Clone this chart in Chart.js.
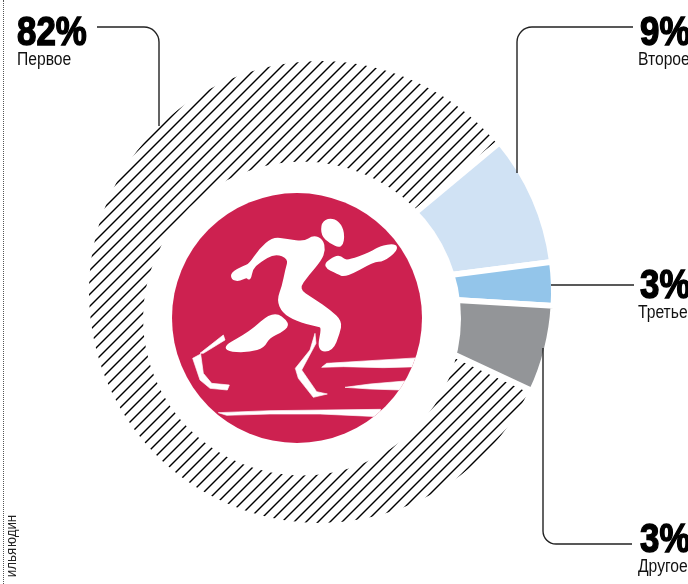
<!DOCTYPE html>
<html lang="ru">
<head>
<meta charset="utf-8">
<title>Диаграмма</title>
<script src="https://cdn.jsdelivr.net/npm/chart.js@4"></script>
<style>
  html, body { margin: 0; padding: 0; background: #fff; overflow: hidden; }
  #box { position: relative; width: 688px; height: 584px; overflow: hidden; }
  #grafico { position: absolute; left: 0; top: 0; }
  .pct, .nom, #credito { position: absolute; color: #000; white-space: nowrap; font-family: "Liberation Sans", sans-serif; transform-origin: 0 0; }
  .pct { font-weight: 700; font-size: 41px; line-height: 41px; -webkit-text-stroke: 1.5px #000; transform: scaleX(.85); }
  .nom { font-size: 18px; line-height: 20px; color: #111; transform: scaleX(.87); }
  #credito { left: 11px; top: 546px; font-size: 14px; line-height: 14px; color: #222; word-spacing: -3px; transform-origin: 50% 50%; transform: translate(-50%, -50%) rotate(-90deg) scaleX(.95); }
  #punteado { position: absolute; left: 3px; top: 0; height: 584px; border-left: 1.5px dotted #555; }
</style>
</head>
<body>
<div id="box">
  <canvas id="grafico" width="688" height="584"></canvas>
  <div id="punteado"></div>
  <div id="credito">илья юдин</div>
</div>
<script>
// Datos. La porción gris está dibujada mayor que su rótulo (3%): ocupa ~6% del anillo.
const categorias = ['Первое', 'Второе', 'Третье', 'Другое'];
const valores = [82, 9, 3, 6];
const rotulos = ['82%', '9%', '3%', '3%'];
const colores = ['#000000', '#d0e2f4', '#93c5ea', '#939598'];

// Posición de los rótulos, en el mismo orden que categorias
const rotulosX = [17, 640, 640, 640];
const rotulosY = [11, 11, 264, 518];

function rayado() {
  const t = document.createElement('canvas');
  t.width = 12; t.height = 12;
  const c = t.getContext('2d');
  c.strokeStyle = '#000';
  c.lineWidth = 1.4;
  [[-12, 12, 12, -12], [0, 12, 12, 0], [0, 24, 24, 0]].forEach(([a, b, d, e]) => {
    c.beginPath(); c.moveTo(a, b); c.lineTo(d, e); c.stroke();
  });
  return c.createPattern(t, 'repeat');
}

// Contorno suavizado por puntos medios; el trazo blanco recupera lo que se come la curva
function formaSuave(ctx, puntos) {
  const medio = (a, b) => [(a[0] + b[0]) / 2, (a[1] + b[1]) / 2];
  const ini = medio(puntos[puntos.length - 1], puntos[0]);
  ctx.beginPath();
  ctx.moveTo(ini[0], ini[1]);
  puntos.forEach((p, i) => {
    const m = medio(p, puntos[(i + 1) % puntos.length]);
    ctx.quadraticCurveTo(p[0], p[1], m[0], m[1]);
  });
  ctx.closePath();
  ctx.lineWidth = 9;
  ctx.fill();
  ctx.stroke();
}

function formaRecta(ctx, puntos) {
  ctx.beginPath();
  puntos.forEach(([x, y], i) => i ? ctx.lineTo(x, y) : ctx.moveTo(x, y));
  ctx.closePath();
  ctx.lineWidth = 2;
  ctx.fill();
  ctx.stroke();
}

// El corredor, trazado en coordenadas del recorte 3x
const corredorSuave = [
  [[458,100],[480,88],[505,98],[520,130],[514,172],[480,155],[458,135]],
  [[187,250],[220,232],[240,225],[270,180],[310,145],[350,152],[405,158],[430,140],[455,150],[462,180],[450,210],[415,250],[380,298],[430,330],[480,365],[512,395],[505,430],[485,480],[445,480],[460,410],[440,405],[380,390],[340,365],[325,330],[340,290],[350,240],[360,205],[315,185],[265,215],[245,235],[238,268],[232,258],[205,270],[188,265]],
  [[462,228],[490,205],[510,200],[528,218],[605,190],[630,172],[675,165],[678,180],[640,210],[610,212],[525,258],[505,248]],
  [[310,366],[355,400],[340,420],[295,440],[280,470],[240,482],[185,482],[163,470],[240,430]],
];
const corredorRecto = [
  [[160,435],[165,450],[100,490],[90,490]],
  [[68,505],[92,492],[100,550],[125,580],[178,585],[172,600],[120,595],[90,570]],
  [[435,430],[438,460],[395,540],[440,605],[472,612],[430,622],[385,565],[376,535],[420,480]],
  [[455,532],[470,520],[600,512],[750,503],[750,530],[640,533],[520,530]],
  [[525,592],[600,582],[705,573],[690,600],[600,597]],
  [[145,668],[300,662],[632,658],[625,680],[450,672],[300,672],[170,676]],
];

// Tapa el centro (desplazado respecto del anillo) y dibuja el logo y las líneas guía
const decoracion = {
  id: 'decoracion',
  afterDatasetsDraw(chart) {
    const ctx = chart.ctx;
    ctx.save();
    ctx.fillStyle = '#fff';
    ctx.beginPath(); ctx.ellipse(302, 318.5, 159, 157, 0, 0, Math.PI * 2); ctx.fill();
    ctx.fillStyle = '#cd2150';
    ctx.beginPath(); ctx.arc(297, 318, 125, 0, Math.PI * 2); ctx.fill();

    ctx.save();
    ctx.beginPath(); ctx.arc(297, 318, 125, 0, Math.PI * 2); ctx.clip();
    ctx.translate(170, 190);
    ctx.scale(1 / 3, 1 / 3);
    ctx.fillStyle = '#fff';
    ctx.strokeStyle = '#fff';
    ctx.lineJoin = 'round';
    corredorSuave.forEach(p => formaSuave(ctx, p));
    corredorRecto.forEach(p => formaRecta(ctx, p));
    ctx.restore();

    ctx.strokeStyle = '#222';
    ctx.lineWidth = 1.4;
    const guia = (trazo) => { ctx.beginPath(); trazo(); ctx.stroke(); };
    guia(() => { ctx.moveTo(97, 27); ctx.arcTo(159, 27, 159, 126, 15); ctx.lineTo(159, 126); });
    guia(() => { ctx.moveTo(633, 27); ctx.arcTo(517, 27, 517, 173, 15); ctx.lineTo(517, 173); });
    guia(() => { ctx.moveTo(551, 285); ctx.lineTo(634, 285); });
    guia(() => { ctx.moveTo(543, 348); ctx.arcTo(543, 544, 632, 544, 13); ctx.lineTo(632, 544); });
    ctx.restore();
  },
};

new Chart(document.getElementById('grafico'), {
  type: 'doughnut',
  data: {
    labels: categorias,
    datasets: [{
      data: valores,
      backgroundColor: colores.map((c, i) => i === 0 ? rayado() : c),
      borderColor: '#ffffff',
      borderWidth: 6,
    }],
  },
  options: {
    responsive: false,
    animation: false,
    events: [],
    rotation: 115,
    radius: 234,
    cutout: 100,
    layout: { padding: { right: 48 } },
    plugins: { legend: { display: false }, tooltip: { enabled: false } },
  },
  plugins: [decoracion],
});

// Rótulos como texto real
const caja = document.getElementById('box');
categorias.forEach((nombre, i) => {
  const pct = document.createElement('div');
  pct.className = 'pct';
  pct.textContent = rotulos[i];
  pct.style.left = rotulosX[i] + 'px';
  pct.style.top = rotulosY[i] + 'px';
  caja.appendChild(pct);
  const nom = document.createElement('div');
  nom.className = 'nom';
  nom.textContent = nombre;
  nom.style.left = rotulosX[i] - (i === 0 ? 0 : 2) + 'px';
  nom.style.top = rotulosY[i] + 38 + 'px';
  caja.appendChild(nom);
});
</script>
</body>
</html>
